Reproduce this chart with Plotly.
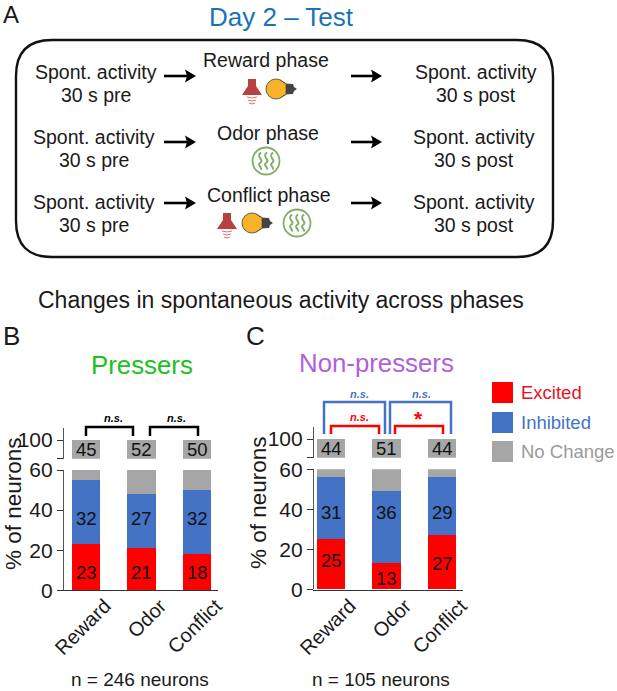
import plotly.graph_objects as go

W, H = 617, 691
FONT = "Liberation Sans"
TXT = "#1a1a1a"

# ---------- data ----------
categories = ["Reward", "Odor", "Conflict"]
pressers_excited = [23, 21, 18]
pressers_inhibited = [32, 27, 32]
pressers_nochange = [45, 52, 50]
nonpressers_excited = [25, 13, 27]
nonpressers_inhibited = [31, 36, 29]
nonpressers_nochange = [44, 51, 44]
series_names = ["Excited", "Inhibited", "No Change"]
# heights at which the printed numbers sit inside each bar
pressers_excited_label_y = [9, 9, 9]
pressers_inhibited_label_y = [35.6, 35.6, 35.6]
nonpressers_excited_label_y = [14.3, 5.5, 13]
nonpressers_inhibited_label_y = [38.5, 38.5, 38.5]
nochange_label_y = [90, 90, 90]

COL = {"Excited": "#ff0000", "Inhibited": "#4472c4", "No Change": "#a6a6a6"}
LEG_TXT = {"Excited": "#e8141c", "Inhibited": "#4472c4", "No Change": "#9a9a9a"}


def px(x):
    return x / W


def py(y):
    return 1 - y / H


def path(*cmds):
    """Commands in page pixels: ('M',x,y), ('L',x,y), ('Q',cx,cy,x,y), ('C',...), ('Z',)"""
    out = []
    for c in cmds:
        vals = c[1:]
        pts = []
        for i in range(0, len(vals), 2):
            pts.append(f"{px(vals[i]):.5f},{py(vals[i+1]):.5f}")
        out.append(c[0] + " ".join(pts))
    return " ".join(out)


shapes, ann = [], []


def text(x, y, s, size=19.5, color=TXT, angle=0, anchor="center"):
    ann.append(dict(x=px(x), y=py(y), xref="paper", yref="paper", text=s, showarrow=False,
                    font=dict(family=FONT, size=size, color=color), textangle=angle,
                    xanchor=anchor, yanchor="middle"))


def pshape(p, line=None, width=0, fill=None):
    shapes.append(dict(type="path", path=p, xref="paper", yref="paper", layer="above",
                       line=dict(color=line or "rgba(0,0,0,0)", width=width),
                       fillcolor=fill or "rgba(0,0,0,0)"))


def circle(cx, cy, r, line=None, width=0, fill=None):
    shapes.append(dict(type="circle", xref="paper", yref="paper", layer="above",
                       x0=px(cx - r), x1=px(cx + r), y0=py(cy + r), y1=py(cy - r),
                       line=dict(color=line or "rgba(0,0,0,0)", width=width),
                       fillcolor=fill or "rgba(0,0,0,0)"))


def bracket(x0, x1, top, bottom, color, width=2.5):
    pshape(path(("M", x0, bottom), ("L", x0, top), ("L", x1, top), ("L", x1, bottom)), line=color, width=width)


def arrow(x0, x1, y):
    pshape(path(("M", x0, y), ("L", x1 - 8, y)), line="#000000", width=2.6)
    pshape(path(("M", x1 - 11, y - 6.5), ("L", x1, y), ("L", x1 - 11, y + 6.5), ("L", x1 - 9, y), ("Z",)), fill="#000000")


def speaker(cx, cy):
    c = "#b8403f"
    pshape(path(("M", cx - 4, cy - 10), ("L", cx + 4, cy - 10), ("L", cx + 4, cy - 3), ("L", cx + 10, cy + 6),
                ("L", cx - 10, cy + 6), ("L", cx - 4, cy - 3), ("Z",)), fill=c)
    for d, hw in ((8, 5), (11, 4), (14, 3)):
        pshape(path(("M", cx - hw, cy + d), ("Q", cx, cy + d + 2, cx + hw, cy + d)), line="#d9706e", width=1)


def bulb(cx, cy):
    pshape(path(("M", cx + 9, cy - 5.5), ("L", cx + 17, cy - 5), ("L", cx + 18, cy - 2), ("L", cx + 21, cy),
                ("L", cx + 18, cy + 2), ("L", cx + 17, cy + 5), ("L", cx + 9, cy + 5.5), ("Z",)), fill="#444444")
    pshape(path(("M", cx + 4, cy - 9), ("L", cx + 10, cy - 5.5), ("L", cx + 10, cy + 5.5), ("L", cx + 4, cy + 9), ("Z",)),
           line="#4a4030", width=0.8, fill="#f7b32b")
    circle(cx, cy, 10, line="#4a4030", width=0.8, fill="#f7b32b")
    pshape(path(("M", cx + 6, cy - 6.5), ("L", cx + 9.5, cy - 5), ("L", cx + 9.5, cy + 5), ("L", cx + 6, cy + 6.5), ("Z",)), fill="#f7b32b")


def odor(cx, cy):
    g = "#7fb069"
    circle(cx, cy, 13.5, line=g, width=1.8)
    for dx in (-6, 0, 6):
        x = cx + dx
        pshape(path(("M", x + 1, cy - 8.5), ("C", x - 5, cy - 4, x + 5, cy - 1, x, cy + 2),
                    ("C", x - 3, cy + 4, x + 2, cy + 6, x + 1, cy + 8.5)), line=g, width=2)


# ---------- panel A ----------
text(11, 14.5, "A", 24)
text(281, 17, "Day 2 – Test", 26, "#1a72b8")
r = 36
L, R, T, B = 16, 553, 40, 257
pshape(path(("M", L + r, T), ("L", R - r, T), ("Q", R, T, R, T + r), ("L", R, B - r), ("Q", R, B, R - r, B),
            ("L", L + r, B), ("Q", L, B, L, B - r), ("L", L, T + r), ("Q", L, T, L + r, T), ("Z",)),
       line="#111111", width=2.4)
for (xl, xr, y1, y2) in ((96, 476, 72, 95), (94, 474, 137, 160), (94, 474, 202, 225)):
    text(xl, y1, "Spont. activity")
    text(xl, y2, "30 s pre")
    text(xr, y1, "Spont. activity")
    text(xr, y2, "30 s post")
text(266, 60, "Reward phase", 19.5)
text(268, 133, "Odor phase", 19.5)
text(269, 195, "Conflict phase", 19.5)
for y in (76, 142, 203):
    arrow(164, 196, y)
    arrow(351, 382, y)
speaker(252, 89)
bulb(276, 89)
odor(266, 161)
speaker(227, 223)
bulb(252, 223)
odor(297, 223)

text(281, 300, "Changes in spontaneous activity across phases", 23)
text(11, 336, "B", 26)
text(255, 336, "C", 26)
text(142, 365, "Pressers", 25.8, "#20c020")
text(376, 363, "Non-pressers", 25.8, "#b060d8")
text(13, 504, "% of neurons", 22.5, angle=-90)
text(258, 503, "% of neurons", 22.5, angle=-90)
text(140, 679.5, "n = 246 neurons", 19)
text(381, 679.5, "n = 105 neurons", 19)

# ---------- legend ----------
for name, top in zip(series_names, (382, 412, 441)):
    shapes.append(dict(type="rect", xref="paper", yref="paper", x0=px(492), x1=px(513), y0=py(top + 21), y1=py(top),
                       fillcolor=COL[name], line=dict(width=0)))
    text(519, top + 10.5, name, 18.5, LEG_TXT[name], anchor="left")

# ---------- significance brackets ----------
bracket(86, 133, 427, 436, "#000000")
bracket(150, 198, 427, 436, "#000000")
text(113, 418, "<b><i>n.s.</i></b>", 11, "#000000")
text(176, 418, "<b><i>n.s.</i></b>", 11, "#000000")
bracket(324, 385, 402, 434, "#4472c4")
bracket(390, 451, 402, 434, "#4472c4")
bracket(331, 379, 426, 434, "#ff0000")
bracket(395, 443, 426, 434, "#ff0000")
text(359, 394, "<b><i>n.s.</i></b>", 11, "#4472c4")
text(421, 394, "<b><i>n.s.</i></b>", 11, "#4472c4")
text(359, 417, "<b><i>n.s.</i></b>", 11, "#ff0000")
text(418, 418, "<b>*</b>", 21, "#ff0000")


# ---------- charts ----------
fig = go.Figure()


def panel(xa, ylow, yup, ex, inh, nc, ex_y, inh_y):
    for yax in (ylow, yup):
        for name, vals in zip(series_names, (ex, inh, nc)):
            fig.add_trace(go.Bar(x=[0, 1, 2], y=vals, name=name, xaxis=xa, yaxis=yax, width=0.51,
                                 marker=dict(color=COL[name], line=dict(width=0)), showlegend=False))
    for i in range(3):
        for v, yy, ax in ((ex[i], ex_y[i], ylow), (inh[i], inh_y[i], ylow), (nc[i], nochange_label_y[i], yup)):
            ann.append(dict(x=i, y=yy, xref=xa, yref=ax, text=str(v), showarrow=False,
                            font=dict(family=FONT, size=18.5, color="#111111")))


panel("x", "y", "y2", pressers_excited, pressers_inhibited, pressers_nochange,
      pressers_excited_label_y, pressers_inhibited_label_y)
panel("x2", "y3", "y4", nonpressers_excited, nonpressers_inhibited, nonpressers_nochange,
      nonpressers_excited_label_y, nonpressers_inhibited_label_y)


def xaxis(left, right, c0, step):
    return dict(domain=[px(left), px(right)], range=[(left - c0) / step, (right - c0) / step],
                tickvals=[0, 1, 2], ticktext=categories, tickangle=-45, ticks="", showgrid=False, zeroline=False,
                showline=True, linecolor="#333333", linewidth=1.2, ticklabelshift=19, ticklabelstandoff=-5,
                automargin=False, tickfont=dict(family=FONT, size=20, color=TXT))


def ylow(y60, y0, anchor):
    return dict(domain=[py(y0), py(y60)], range=[0, 60], tickvals=[0, 20, 40, 60], anchor=anchor, showgrid=False,
                zeroline=False, showline=True, linecolor="#555555", linewidth=1.2, ticks="outside", ticklen=6,
                automargin=False, tickcolor="#333333", tickfont=dict(family=FONT, size=21, color=TXT))


def yup(ytop, ybot, y100, anchor):
    top = 100 + (y100 - ytop) / (ybot - y100) * 20
    return dict(domain=[py(ybot), py(ytop)], range=[80, top], tickvals=[80, 100], ticktext=["", "100"], anchor=anchor,
                showgrid=False, zeroline=False, showline=True, linecolor="#555555", linewidth=1.2, ticks="outside",
                automargin=False, ticklen=6, tickcolor="#333333", tickfont=dict(family=FONT, size=21, color=TXT))


fig.update_layout(
    width=W, height=H, autosize=False, margin=dict(l=0, r=0, t=0, b=0, autoexpand=False), barmode="stack", bargap=0.49,
    paper_bgcolor="white", plot_bgcolor="rgba(0,0,0,0)", showlegend=False,
    xaxis=xaxis(64, 218, 86, 55.5),
    yaxis=ylow(470, 590.3, "x"),
    yaxis2=yup(428, 458.7, 440, "x"),
    xaxis2=xaxis(314, 463, 331, 55.5),
    yaxis3=ylow(469.3, 589.3, "x2"),
    yaxis4=yup(427.3, 457.7, 439, "x2"),
    shapes=shapes, annotations=ann,
)
fig.write_html("out.html", config={"displayModeBar": False},
               post_script="document.body.style.margin='0';document.body.style.overflow='hidden';")
